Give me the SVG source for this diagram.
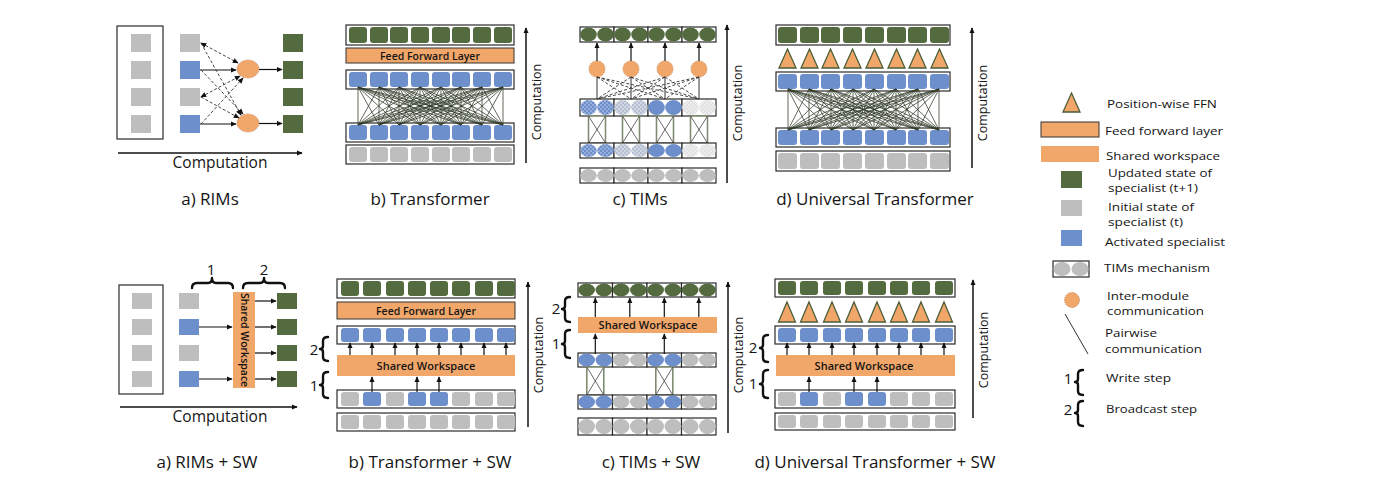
<svg xmlns="http://www.w3.org/2000/svg" width="1400" height="486" viewBox="0 0 1400 486">
<defs>
<style>
.t{font-family:"Open Sans","Liberation Sans",sans-serif;fill:#151515}
.ttl{font-size:17px;text-anchor:middle}
.cmp{font-size:15.5px;text-anchor:middle}
.rc{font-size:12.5px;text-anchor:middle}
.lg{font-size:11px}
.bar{font-size:10.5px;font-weight:600;text-anchor:middle}
.num{font-size:15px;text-anchor:middle}
.fr{fill:#fff;stroke:#2a2a2a;stroke-width:1.2}
.g{fill:#546b3f}.gr{fill:#bebebe}.b{fill:#6d8fcb}.o{fill:#f2a76a}
.ffl{fill:#f2a76a;stroke:#333;stroke-width:1}
.tri{fill:#f2a76a;stroke:#4a5e38;stroke-width:1.3}
.oc{fill:#f2a76a;stroke:#c8855a;stroke-width:0.8;stroke-dasharray:1.5 1}
.ar{stroke:#111;stroke-width:1.2;fill:none;marker-end:url(#a)}
.ax{stroke:#111;stroke-width:1.5;fill:none;marker-end:url(#a)}
.br{stroke:#111;stroke-width:2.4;fill:none;stroke-linecap:round;stroke-linejoin:round}
.ds{stroke:#333;stroke-width:0.9;stroke-dasharray:3 2;fill:none}
.cn{stroke:#2d3826;stroke-width:0.75;fill:none}
.xb{fill:#fff;stroke:#7f8c72;stroke-width:1.6}
.xl{stroke:#444;stroke-width:0.8;fill:none}
.vl{stroke:#333;stroke-width:1;fill:none}
</style>
<marker id="a" viewBox="0 0 8 8" refX="7" refY="4" markerWidth="6" markerHeight="6" markerUnits="userSpaceOnUse" orient="auto-start-reverse"><path d="M0 0.5L8 4L0 7.5z" fill="#111"/></marker>
<pattern id="pb" width="4" height="4" patternUnits="userSpaceOnUse"><rect width="4" height="4" fill="#6d8fcb"/><circle cx="1" cy="1" r="0.7" fill="#dfe6f4"/><circle cx="3" cy="3" r="0.7" fill="#dfe6f4"/></pattern>
<pattern id="pg" width="4" height="4" patternUnits="userSpaceOnUse"><rect width="4" height="4" fill="#d3d6dc"/><circle cx="1" cy="1" r="0.7" fill="#7d9bd0"/><circle cx="3" cy="3" r="0.7" fill="#7d9bd0"/></pattern>
<pattern id="pl" width="4" height="4" patternUnits="userSpaceOnUse"><rect width="4" height="4" fill="#e2e2e2"/><circle cx="1" cy="1" r="0.7" fill="#fff"/><circle cx="3" cy="3" r="0.7" fill="#fff"/></pattern>
</defs>
<rect width="1400" height="486" fill="#fff"/>

<!-- a) RIMs -->
<g id="rims">
<rect class="fr" x="117" y="26" width="46" height="113"/>
<rect class="gr" x="131" y="34" width="20" height="18"/><rect class="gr" x="131" y="61" width="20" height="18"/><rect class="gr" x="131" y="88" width="20" height="18"/><rect class="gr" x="131" y="115" width="20" height="18"/>
<rect class="gr" x="180" y="34" width="20" height="18"/><rect class="b" x="180" y="61" width="20" height="18"/><rect class="gr" x="180" y="88" width="20" height="18"/><rect class="b" x="180" y="115" width="20" height="18"/>
<ellipse class="oc" cx="248" cy="69" rx="11" ry="9"/><ellipse class="oc" cx="248" cy="123" rx="11" ry="9"/>
<rect class="g" x="283" y="34" width="20" height="18"/><rect class="g" x="283" y="61" width="20" height="18"/><rect class="g" x="283" y="88" width="20" height="18"/><rect class="g" x="283" y="115" width="20" height="18"/>
<text class="t cmp" x="220" y="168">Computation</text>
<text class="t ttl" x="210" y="205">a) RIMs</text>
</g>

<!-- b) Transformer -->
<g id="transformer">
<rect class="fr" x="346" y="25" width="168" height="20"/>
<rect class="g" x="349" y="27" width="18" height="16" rx="3"/><rect class="g" x="370" y="27" width="18" height="16" rx="3"/><rect class="g" x="390" y="27" width="18" height="16" rx="3"/><rect class="g" x="411" y="27" width="18" height="16" rx="3"/><rect class="g" x="432" y="27" width="18" height="16" rx="3"/><rect class="g" x="452" y="27" width="18" height="16" rx="3"/><rect class="g" x="473" y="27" width="18" height="16" rx="3"/><rect class="g" x="494" y="27" width="18" height="16" rx="3"/>
<rect class="ffl" x="346" y="48" width="168" height="15"/>
<text class="t bar" x="430" y="59.5">Feed Forward Layer</text>
<rect class="fr" x="346" y="70" width="168" height="19"/>
<rect class="b" x="349" y="72" width="18" height="15" rx="3"/><rect class="b" x="370" y="72" width="18" height="15" rx="3"/><rect class="b" x="390" y="72" width="18" height="15" rx="3"/><rect class="b" x="411" y="72" width="18" height="15" rx="3"/><rect class="b" x="432" y="72" width="18" height="15" rx="3"/><rect class="b" x="452" y="72" width="18" height="15" rx="3"/><rect class="b" x="473" y="72" width="18" height="15" rx="3"/><rect class="b" x="494" y="72" width="18" height="15" rx="3"/>
<rect class="fr" x="346" y="123" width="168" height="19"/>
<rect class="b" x="349" y="125" width="18" height="15" rx="3"/><rect class="b" x="370" y="125" width="18" height="15" rx="3"/><rect class="b" x="390" y="125" width="18" height="15" rx="3"/><rect class="b" x="411" y="125" width="18" height="15" rx="3"/><rect class="b" x="432" y="125" width="18" height="15" rx="3"/><rect class="b" x="452" y="125" width="18" height="15" rx="3"/><rect class="b" x="473" y="125" width="18" height="15" rx="3"/><rect class="b" x="494" y="125" width="18" height="15" rx="3"/>
<rect class="fr" x="346" y="145" width="168" height="19"/>
<rect class="gr" x="349" y="147" width="18" height="15" rx="3"/><rect class="gr" x="370" y="147" width="18" height="15" rx="3"/><rect class="gr" x="390" y="147" width="18" height="15" rx="3"/><rect class="gr" x="411" y="147" width="18" height="15" rx="3"/><rect class="gr" x="432" y="147" width="18" height="15" rx="3"/><rect class="gr" x="452" y="147" width="18" height="15" rx="3"/><rect class="gr" x="473" y="147" width="18" height="15" rx="3"/><rect class="gr" x="494" y="147" width="18" height="15" rx="3"/>
<text class="t rc" transform="translate(541 102) rotate(-90)">Computation</text>
<text class="t ttl" x="430" y="205">b) Transformer</text>
</g>

<!-- c) TIMs -->
<g id="tims">
<rect class="fr" x="580" y="27" width="34" height="15"/><rect class="fr" x="614" y="27" width="34" height="15"/><rect class="fr" x="648" y="27" width="34" height="15"/><rect class="fr" x="682" y="27" width="34" height="15"/>
<g class="g"><ellipse cx="588.5" cy="34.5" rx="8.3" ry="7"/><ellipse cx="605.5" cy="34.5" rx="8.3" ry="7"/><ellipse cx="622.5" cy="34.5" rx="8.3" ry="7"/><ellipse cx="639.5" cy="34.5" rx="8.3" ry="7"/><ellipse cx="656.5" cy="34.5" rx="8.3" ry="7"/><ellipse cx="673.5" cy="34.5" rx="8.3" ry="7"/><ellipse cx="690.5" cy="34.5" rx="8.3" ry="7"/><ellipse cx="707.5" cy="34.5" rx="8.3" ry="7"/></g>
<circle class="oc" cx="597" cy="69" r="8"/><circle class="oc" cx="631" cy="69" r="8"/><circle class="oc" cx="665" cy="69" r="8"/><circle class="oc" cx="699" cy="69" r="8"/>
<rect class="fr" x="580" y="99" width="34" height="17"/><rect class="fr" x="614" y="99" width="34" height="17"/><rect class="fr" x="648" y="99" width="34" height="17"/><rect class="fr" x="682" y="99" width="34" height="17"/>
<ellipse fill="url(#pb)" cx="588.5" cy="107.5" rx="8.3" ry="7.5"/><ellipse fill="url(#pb)" cx="605.5" cy="107.5" rx="8.3" ry="7.5"/><ellipse fill="url(#pg)" cx="622.5" cy="107.5" rx="8.3" ry="7.5"/><ellipse fill="url(#pg)" cx="639.5" cy="107.5" rx="8.3" ry="7.5"/><ellipse class="b" cx="656.5" cy="107.5" rx="8.3" ry="7.5"/><ellipse class="b" cx="673.5" cy="107.5" rx="8.3" ry="7.5"/><ellipse fill="url(#pl)" cx="690.5" cy="107.5" rx="8.3" ry="7.5"/><ellipse fill="url(#pl)" cx="707.5" cy="107.5" rx="8.3" ry="7.5"/>
<rect class="xb" x="588.5" y="116" width="17" height="27"/><rect class="xb" x="622.5" y="116" width="17" height="27"/><rect class="xb" x="656.5" y="116" width="17" height="27"/><rect class="xb" x="690.5" y="116" width="17" height="27"/>
<path class="xl" d="M588.5 116 605.5 143M605.5 116 588.5 143M622.5 116 639.5 143M639.5 116 622.5 143M656.5 116 673.5 143M673.5 116 656.5 143M690.5 116 707.5 143M707.5 116 690.5 143"/>
<rect class="fr" x="580" y="143" width="34" height="15"/><rect class="fr" x="614" y="143" width="34" height="15"/><rect class="fr" x="648" y="143" width="34" height="15"/><rect class="fr" x="682" y="143" width="34" height="15"/>
<ellipse fill="url(#pb)" cx="588.5" cy="150.5" rx="8.3" ry="6.5"/><ellipse fill="url(#pb)" cx="605.5" cy="150.5" rx="8.3" ry="6.5"/><ellipse fill="url(#pg)" cx="622.5" cy="150.5" rx="8.3" ry="6.5"/><ellipse fill="url(#pg)" cx="639.5" cy="150.5" rx="8.3" ry="6.5"/><ellipse class="b" cx="656.5" cy="150.5" rx="8.3" ry="6.5"/><ellipse class="b" cx="673.5" cy="150.5" rx="8.3" ry="6.5"/><ellipse fill="url(#pl)" cx="690.5" cy="150.5" rx="8.3" ry="6.5"/><ellipse fill="url(#pl)" cx="707.5" cy="150.5" rx="8.3" ry="6.5"/>
<rect class="fr" x="580" y="168" width="34" height="15"/><rect class="fr" x="614" y="168" width="34" height="15"/><rect class="fr" x="648" y="168" width="34" height="15"/><rect class="fr" x="682" y="168" width="34" height="15"/>
<g class="gr"><ellipse cx="588.5" cy="175.5" rx="8.3" ry="6.5"/><ellipse cx="605.5" cy="175.5" rx="8.3" ry="6.5"/><ellipse cx="622.5" cy="175.5" rx="8.3" ry="6.5"/><ellipse cx="639.5" cy="175.5" rx="8.3" ry="6.5"/><ellipse cx="656.5" cy="175.5" rx="8.3" ry="6.5"/><ellipse cx="673.5" cy="175.5" rx="8.3" ry="6.5"/><ellipse cx="690.5" cy="175.5" rx="8.3" ry="6.5"/><ellipse cx="707.5" cy="175.5" rx="8.3" ry="6.5"/></g>
<text class="t rc" transform="translate(742 103) rotate(-90)">Computation</text>
<text class="t ttl" x="640" y="205">c) TIMs</text>
</g>

<!-- d) Universal Transformer -->
<g id="universal-transformer">
<rect class="fr" x="776" y="25" width="174" height="20"/>
<rect class="g" x="778" y="27" width="19" height="16" rx="3"/><rect class="g" x="800" y="27" width="19" height="16" rx="3"/><rect class="g" x="821" y="27" width="19" height="16" rx="3"/><rect class="g" x="843" y="27" width="19" height="16" rx="3"/><rect class="g" x="865" y="27" width="19" height="16" rx="3"/><rect class="g" x="887" y="27" width="19" height="16" rx="3"/><rect class="g" x="908" y="27" width="19" height="16" rx="3"/><rect class="g" x="930" y="27" width="19" height="16" rx="3"/>
<path class="tri" d="M787.5 49 796 68 779 68zM809.5 49 818 68 801 68zM830.5 49 839 68 822 68zM852.5 49 861 68 844 68zM874.5 49 883 68 866 68zM896.5 49 905 68 888 68zM917.5 49 926 68 909 68zM939.5 49 948 68 931 68z"/>
<rect class="fr" x="776" y="72" width="174" height="19"/>
<rect class="b" x="778" y="74" width="19" height="15" rx="3"/><rect class="b" x="800" y="74" width="19" height="15" rx="3"/><rect class="b" x="821" y="74" width="19" height="15" rx="3"/><rect class="b" x="843" y="74" width="19" height="15" rx="3"/><rect class="b" x="865" y="74" width="19" height="15" rx="3"/><rect class="b" x="887" y="74" width="19" height="15" rx="3"/><rect class="b" x="908" y="74" width="19" height="15" rx="3"/><rect class="b" x="930" y="74" width="19" height="15" rx="3"/>
<rect class="fr" x="776" y="128" width="174" height="19"/>
<rect class="b" x="778" y="130" width="19" height="15" rx="3"/><rect class="b" x="800" y="130" width="19" height="15" rx="3"/><rect class="b" x="821" y="130" width="19" height="15" rx="3"/><rect class="b" x="843" y="130" width="19" height="15" rx="3"/><rect class="b" x="865" y="130" width="19" height="15" rx="3"/><rect class="b" x="887" y="130" width="19" height="15" rx="3"/><rect class="b" x="908" y="130" width="19" height="15" rx="3"/><rect class="b" x="930" y="130" width="19" height="15" rx="3"/>
<rect class="fr" x="776" y="151" width="174" height="20"/>
<rect class="gr" x="778" y="153" width="19" height="16" rx="3"/><rect class="gr" x="800" y="153" width="19" height="16" rx="3"/><rect class="gr" x="821" y="153" width="19" height="16" rx="3"/><rect class="gr" x="843" y="153" width="19" height="16" rx="3"/><rect class="gr" x="865" y="153" width="19" height="16" rx="3"/><rect class="gr" x="887" y="153" width="19" height="16" rx="3"/><rect class="gr" x="908" y="153" width="19" height="16" rx="3"/><rect class="gr" x="930" y="153" width="19" height="16" rx="3"/>
<text class="t rc" transform="translate(987 103) rotate(-90)">Computation</text>
<text class="t ttl" x="875" y="205">d) Universal Transformer</text>
</g>

<!-- a) RIMs + SW -->
<g id="rims-sw">
<rect class="fr" x="119" y="285" width="44" height="109"/>
<rect class="gr" x="132" y="293" width="20" height="16"/><rect class="gr" x="132" y="319" width="20" height="16"/><rect class="gr" x="132" y="345" width="20" height="16"/><rect class="gr" x="132" y="371" width="20" height="16"/>
<rect class="gr" x="179" y="293" width="20" height="16"/><rect class="b" x="179" y="319" width="20" height="16"/><rect class="gr" x="179" y="345" width="20" height="16"/><rect class="b" x="179" y="371" width="20" height="16"/>
<rect class="o" x="233" y="292" width="22" height="96"/>
<text class="t bar" transform="translate(240.5 340) rotate(90)">Shared Workspace</text>
<rect class="g" x="277" y="293" width="20" height="16"/><rect class="g" x="277" y="319" width="20" height="16"/><rect class="g" x="277" y="345" width="20" height="16"/><rect class="g" x="277" y="371" width="20" height="16"/>
<path class="br" d="M192 288Q192 283 197 283L208 283Q212 283 212 278Q212 283 216 283L228 283Q233 283 233 288"/>
<path class="br" d="M243 288Q243 283 248 283L260 283Q264 283 264 278Q264 283 268 283L280 283Q285 283 285 288"/>
<text class="t num" x="211" y="275">1</text>
<text class="t num" x="264" y="275">2</text>
<text class="t cmp" x="220" y="422">Computation</text>
<text class="t ttl" x="207" y="468">a) RIMs + SW</text>
</g>

<!-- b) Transformer + SW -->
<g id="transformer-sw">
<rect class="fr" x="337" y="279" width="178" height="19"/>
<rect class="g" x="341" y="281" width="18" height="15" rx="3"/><rect class="g" x="363" y="281" width="18" height="15" rx="3"/><rect class="g" x="386" y="281" width="18" height="15" rx="3"/><rect class="g" x="408" y="281" width="18" height="15" rx="3"/><rect class="g" x="430" y="281" width="18" height="15" rx="3"/><rect class="g" x="452" y="281" width="18" height="15" rx="3"/><rect class="g" x="475" y="281" width="18" height="15" rx="3"/><rect class="g" x="497" y="281" width="18" height="15" rx="3"/>
<rect class="ffl" x="337" y="302" width="178" height="17"/>
<text class="t bar" x="426" y="314.5">Feed Forward Layer</text>
<rect class="fr" x="337" y="326" width="178" height="18"/>
<rect class="b" x="341" y="328" width="18" height="14" rx="3"/><rect class="b" x="363" y="328" width="18" height="14" rx="3"/><rect class="b" x="386" y="328" width="18" height="14" rx="3"/><rect class="b" x="408" y="328" width="18" height="14" rx="3"/><rect class="b" x="430" y="328" width="18" height="14" rx="3"/><rect class="b" x="452" y="328" width="18" height="14" rx="3"/><rect class="b" x="475" y="328" width="18" height="14" rx="3"/><rect class="b" x="497" y="328" width="18" height="14" rx="3"/>
<rect class="o" x="337" y="355" width="178" height="21"/>
<text class="t bar" style="font-size:11px" x="426" y="369.5">Shared Workspace</text>
<rect class="fr" x="337" y="390" width="178" height="18"/>
<rect class="gr" x="341" y="392" width="18" height="14" rx="3"/><rect class="b" x="363" y="392" width="18" height="14" rx="3"/><rect class="gr" x="386" y="392" width="18" height="14" rx="3"/><rect class="b" x="408" y="392" width="18" height="14" rx="3"/><rect class="b" x="430" y="392" width="18" height="14" rx="3"/><rect class="gr" x="452" y="392" width="18" height="14" rx="3"/><rect class="gr" x="475" y="392" width="18" height="14" rx="3"/><rect class="gr" x="497" y="392" width="18" height="14" rx="3"/>
<rect class="fr" x="337" y="413" width="178" height="18"/>
<rect class="gr" x="341" y="415" width="18" height="14" rx="3"/><rect class="gr" x="363" y="415" width="18" height="14" rx="3"/><rect class="gr" x="386" y="415" width="18" height="14" rx="3"/><rect class="gr" x="408" y="415" width="18" height="14" rx="3"/><rect class="gr" x="430" y="415" width="18" height="14" rx="3"/><rect class="gr" x="452" y="415" width="18" height="14" rx="3"/><rect class="gr" x="475" y="415" width="18" height="14" rx="3"/><rect class="gr" x="497" y="415" width="18" height="14" rx="3"/>
<path class="br" d="M328 337Q323 337 323 341L323 346Q323 349 320 349Q323 349 323 352L323 357Q323 361 328 361"/>
<path class="br" d="M328 372Q323 372 323 376L323 382Q323 385 320 385Q323 385 323 388L323 394Q323 398 328 398"/>
<text class="t num" x="314" y="355">2</text>
<text class="t num" x="314" y="391">1</text>
<text class="t rc" transform="translate(543 355) rotate(-90)">Computation</text>
<text class="t ttl" x="430" y="468">b) Transformer + SW</text>
</g>

<!-- c) TIMs + SW -->
<g id="tims-sw">
<rect class="fr" x="578" y="283" width="34.5" height="14"/><rect class="fr" x="612.5" y="283" width="34.5" height="14"/><rect class="fr" x="647" y="283" width="34.5" height="14"/><rect class="fr" x="681.5" y="283" width="34.5" height="14"/>
<g class="g"><ellipse cx="586.6" cy="290" rx="8.4" ry="6.5"/><ellipse cx="603.9" cy="290" rx="8.4" ry="6.5"/><ellipse cx="621.1" cy="290" rx="8.4" ry="6.5"/><ellipse cx="638.4" cy="290" rx="8.4" ry="6.5"/><ellipse cx="655.6" cy="290" rx="8.4" ry="6.5"/><ellipse cx="672.9" cy="290" rx="8.4" ry="6.5"/><ellipse cx="690.1" cy="290" rx="8.4" ry="6.5"/><ellipse cx="707.4" cy="290" rx="8.4" ry="6.5"/></g>
<rect class="o" x="578" y="317" width="139" height="16"/>
<text class="t bar" style="font-size:11px" x="648" y="329">Shared Workspace</text>
<rect class="fr" x="578" y="353" width="34.5" height="14"/><rect class="fr" x="612.5" y="353" width="34.5" height="14"/><rect class="fr" x="647" y="353" width="34.5" height="14"/><rect class="fr" x="681.5" y="353" width="34.5" height="14"/>
<ellipse class="b" cx="586.6" cy="360" rx="8.4" ry="6.5"/><ellipse class="b" cx="603.9" cy="360" rx="8.4" ry="6.5"/><ellipse class="gr" cx="621.1" cy="360" rx="8.4" ry="6.5"/><ellipse class="gr" cx="638.4" cy="360" rx="8.4" ry="6.5"/><ellipse class="b" cx="655.6" cy="360" rx="8.4" ry="6.5"/><ellipse class="b" cx="672.9" cy="360" rx="8.4" ry="6.5"/><ellipse class="gr" cx="690.1" cy="360" rx="8.4" ry="6.5"/><ellipse class="gr" cx="707.4" cy="360" rx="8.4" ry="6.5"/>
<rect class="xb" x="586.8" y="367" width="17" height="28"/><rect class="xb" x="655.8" y="367" width="17" height="28"/>
<path class="xl" d="M586.8 367 603.8 395M603.8 367 586.8 395M655.8 367 672.8 395M672.8 367 655.8 395"/>
<rect class="fr" x="578" y="395" width="34.5" height="14"/><rect class="fr" x="612.5" y="395" width="34.5" height="14"/><rect class="fr" x="647" y="395" width="34.5" height="14"/><rect class="fr" x="681.5" y="395" width="34.5" height="14"/>
<ellipse class="b" cx="586.6" cy="402" rx="8.4" ry="6.5"/><ellipse class="b" cx="603.9" cy="402" rx="8.4" ry="6.5"/><ellipse class="gr" cx="621.1" cy="402" rx="8.4" ry="6.5"/><ellipse class="gr" cx="638.4" cy="402" rx="8.4" ry="6.5"/><ellipse class="b" cx="655.6" cy="402" rx="8.4" ry="6.5"/><ellipse class="b" cx="672.9" cy="402" rx="8.4" ry="6.5"/><ellipse class="gr" cx="690.1" cy="402" rx="8.4" ry="6.5"/><ellipse class="gr" cx="707.4" cy="402" rx="8.4" ry="6.5"/>
<rect class="fr" x="578" y="418" width="34.5" height="17"/><rect class="fr" x="612.5" y="418" width="34.5" height="17"/><rect class="fr" x="647" y="418" width="34.5" height="17"/><rect class="fr" x="681.5" y="418" width="34.5" height="17"/>
<g class="gr"><ellipse cx="586.6" cy="426.5" rx="8.4" ry="7.5"/><ellipse cx="603.9" cy="426.5" rx="8.4" ry="7.5"/><ellipse cx="621.1" cy="426.5" rx="8.4" ry="7.5"/><ellipse cx="638.4" cy="426.5" rx="8.4" ry="7.5"/><ellipse cx="655.6" cy="426.5" rx="8.4" ry="7.5"/><ellipse cx="672.9" cy="426.5" rx="8.4" ry="7.5"/><ellipse cx="690.1" cy="426.5" rx="8.4" ry="7.5"/><ellipse cx="707.4" cy="426.5" rx="8.4" ry="7.5"/></g>
<path class="br" d="M570 297Q565 297 565 301L565 306Q565 309 562 309Q565 309 565 312L565 318Q565 322 570 322"/>
<path class="br" d="M570 330Q565 330 565 334L565 341Q565 344 562 344Q565 344 565 347L565 354Q565 358 570 358"/>
<text class="t num" x="556" y="314">2</text>
<text class="t num" x="556" y="349">1</text>
<text class="t rc" transform="translate(743 355) rotate(-90)">Computation</text>
<text class="t ttl" x="651" y="468">c) TIMs + SW</text>
</g>

<!-- d) Universal Transformer + SW -->
<g id="universal-transformer-sw">
<rect class="fr" x="775" y="279" width="180" height="18"/>
<rect class="g" x="778" y="281" width="18" height="14" rx="3"/><rect class="g" x="800" y="281" width="18" height="14" rx="3"/><rect class="g" x="823" y="281" width="18" height="14" rx="3"/><rect class="g" x="845" y="281" width="18" height="14" rx="3"/><rect class="g" x="868" y="281" width="18" height="14" rx="3"/><rect class="g" x="890" y="281" width="18" height="14" rx="3"/><rect class="g" x="912" y="281" width="18" height="14" rx="3"/><rect class="g" x="935" y="281" width="18" height="14" rx="3"/>
<path class="tri" d="M787 302 795.5 322 778.5 322zM809 302 817.5 322 800.5 322zM832 302 840.5 322 823.5 322zM854 302 862.5 322 845.5 322zM877 302 885.5 322 868.5 322zM899 302 907.5 322 890.5 322zM921 302 929.5 322 912.5 322zM944 302 952.5 322 935.5 322z"/>
<rect class="fr" x="775" y="326" width="180" height="18"/>
<rect class="b" x="778" y="328" width="18" height="14" rx="3"/><rect class="b" x="800" y="328" width="18" height="14" rx="3"/><rect class="b" x="823" y="328" width="18" height="14" rx="3"/><rect class="b" x="845" y="328" width="18" height="14" rx="3"/><rect class="b" x="868" y="328" width="18" height="14" rx="3"/><rect class="b" x="890" y="328" width="18" height="14" rx="3"/><rect class="b" x="912" y="328" width="18" height="14" rx="3"/><rect class="b" x="935" y="328" width="18" height="14" rx="3"/>
<rect class="o" x="776" y="355" width="179" height="21"/>
<text class="t bar" style="font-size:11px" x="864" y="369.5">Shared Workspace</text>
<rect class="fr" x="775" y="390" width="180" height="18"/>
<rect class="gr" x="778" y="392" width="18" height="14" rx="3"/><rect class="b" x="800" y="392" width="18" height="14" rx="3"/><rect class="gr" x="823" y="392" width="18" height="14" rx="3"/><rect class="b" x="845" y="392" width="18" height="14" rx="3"/><rect class="b" x="868" y="392" width="18" height="14" rx="3"/><rect class="gr" x="890" y="392" width="18" height="14" rx="3"/><rect class="gr" x="912" y="392" width="18" height="14" rx="3"/><rect class="gr" x="935" y="392" width="18" height="14" rx="3"/>
<rect class="fr" x="775" y="413" width="180" height="17"/>
<rect class="gr" x="778" y="415" width="18" height="13" rx="3"/><rect class="gr" x="800" y="415" width="18" height="13" rx="3"/><rect class="gr" x="823" y="415" width="18" height="13" rx="3"/><rect class="gr" x="845" y="415" width="18" height="13" rx="3"/><rect class="gr" x="868" y="415" width="18" height="13" rx="3"/><rect class="gr" x="890" y="415" width="18" height="13" rx="3"/><rect class="gr" x="912" y="415" width="18" height="13" rx="3"/><rect class="gr" x="935" y="415" width="18" height="13" rx="3"/>
<path class="br" d="M768 335Q763 335 763 339L763 345Q763 348 760 348Q763 348 763 351L763 358Q763 362 768 362"/>
<path class="br" d="M768 370Q763 370 763 374L763 381Q763 384 760 384Q763 384 763 387L763 394Q763 398 768 398"/>
<text class="t num" x="753" y="353">2</text>
<text class="t num" x="753" y="389">1</text>
<text class="t rc" transform="translate(988 350) rotate(-90)">Computation</text>
<text class="t ttl" x="875" y="468">d) Universal Transformer + SW</text>
</g>

<!-- Legend -->
<g id="legend">
<path class="tri" d="M1071.5 93 1080 112 1063 112z"/>
<text class="t lg" x="1107" y="108" textLength="110" lengthAdjust="spacingAndGlyphs">Position-wise FFN</text>
<rect class="ffl" x="1041" y="122" width="58" height="15"/>
<text class="t lg" x="1105" y="135" textLength="118" lengthAdjust="spacingAndGlyphs">Feed forward layer</text>
<rect class="o" x="1041" y="146" width="58" height="16"/>
<text class="t lg" x="1106" y="160" textLength="114" lengthAdjust="spacingAndGlyphs">Shared workspace</text>
<rect class="g" x="1061" y="171" width="21" height="17"/>
<text class="t lg" x="1108" y="177" textLength="104" lengthAdjust="spacingAndGlyphs">Updated state of</text>
<text class="t lg" x="1108" y="192" textLength="90" lengthAdjust="spacingAndGlyphs">specialist (t+1)</text>
<rect class="gr" x="1061" y="200" width="21" height="16"/>
<text class="t lg" x="1108" y="211" textLength="86" lengthAdjust="spacingAndGlyphs">Initial state of</text>
<text class="t lg" x="1108" y="226" textLength="75" lengthAdjust="spacingAndGlyphs">specialist (t)</text>
<rect class="b" x="1061" y="230" width="21" height="16"/>
<text class="t lg" x="1105" y="246" textLength="120" lengthAdjust="spacingAndGlyphs">Activated specialist</text>
<rect class="fr" x="1053" y="261" width="36" height="16"/>
<ellipse class="gr" cx="1062" cy="269" rx="8.5" ry="7"/><ellipse class="gr" cx="1080" cy="269" rx="8.5" ry="7"/>
<text class="t lg" x="1104" y="272" textLength="106" lengthAdjust="spacingAndGlyphs">TIMs mechanism</text>
<circle class="oc" cx="1072" cy="300" r="7.5"/>
<text class="t lg" x="1107" y="300" textLength="82" lengthAdjust="spacingAndGlyphs">Inter-module</text>
<text class="t lg" x="1107" y="315" textLength="97" lengthAdjust="spacingAndGlyphs">communication</text>
<line x1="1065" y1="314" x2="1088" y2="354" stroke="#333" stroke-width="1"/>
<text class="t lg" x="1105" y="337" textLength="52" lengthAdjust="spacingAndGlyphs">Pairwise</text>
<text class="t lg" x="1105" y="353" textLength="97" lengthAdjust="spacingAndGlyphs">communication</text>
<path class="br" d="M1083 370Q1078 370 1078 374L1078 379Q1078 382 1075 382Q1078 382 1078 385L1078 391Q1078 395 1083 395"/>
<text class="t num" x="1068" y="384">1</text>
<text class="t lg" x="1106" y="382" textLength="65" lengthAdjust="spacingAndGlyphs">Write step</text>
<path class="br" d="M1083 401Q1078 401 1078 405L1078 410Q1078 413 1075 413Q1078 413 1078 416L1078 422Q1078 426 1083 426"/>
<text class="t num" x="1068" y="415">2</text>
<text class="t lg" x="1106" y="413" textLength="91" lengthAdjust="spacingAndGlyphs">Broadcast step</text>
</g>

<!-- Connectors -->
<g id="connectors">
<path class="ar" d="M200 70H236"/><path class="ar" d="M259 69.5H282"/><path class="ar" d="M200 124H236"/><path class="ar" d="M259 123.5H282"/>
<path class="ds" d="M201 43L238 63" marker-start="url(#a)" marker-end="url(#a)"/>
<path class="ds" d="M201 43L241 115" marker-end="url(#a)"/>
<path class="ds" d="M201 70L243 114" marker-end="url(#a)"/>
<path class="ds" d="M201 97L240 76" marker-start="url(#a)" marker-end="url(#a)"/>
<path class="ds" d="M201 97L239 118" marker-end="url(#a)"/>
<path class="ds" d="M201 124L243 78" marker-end="url(#a)"/>
<path class="ax" d="M118 153H302"/>
<path class="cn" d="M358 87 358 125M358 87 379 125M358 87 399 125M358 87 420 125M358 87 441 125M358 87 461 125M358 87 482 125M358 87 503 125M379 87 358 125M379 87 379 125M379 87 399 125M379 87 420 125M379 87 441 125M379 87 461 125M379 87 482 125M379 87 503 125M399 87 358 125M399 87 379 125M399 87 399 125M399 87 420 125M399 87 441 125M399 87 461 125M399 87 482 125M399 87 503 125M420 87 358 125M420 87 379 125M420 87 399 125M420 87 420 125M420 87 441 125M420 87 461 125M420 87 482 125M420 87 503 125M441 87 358 125M441 87 379 125M441 87 399 125M441 87 420 125M441 87 441 125M441 87 461 125M441 87 482 125M441 87 503 125M461 87 358 125M461 87 379 125M461 87 399 125M461 87 420 125M461 87 441 125M461 87 461 125M461 87 482 125M461 87 503 125M482 87 358 125M482 87 379 125M482 87 399 125M482 87 420 125M482 87 441 125M482 87 461 125M482 87 482 125M482 87 503 125M503 87 358 125M503 87 379 125M503 87 399 125M503 87 420 125M503 87 441 125M503 87 461 125M503 87 482 125M503 87 503 125"/>
<path class="ax" d="M526 163V28"/>
<path class="ar" d="M597 61V43"/><path class="ar" d="M631 61V43"/><path class="ar" d="M665 61V43"/><path class="ar" d="M699 61V43"/>
<path class="vl" d="M597 77V99M631 77V99M665 77V99M699 77V99"/>
<path class="ds" d="M597 77 631 99M597 77 665 99M597 77 699 99M631 77 597 99M631 77 665 99M631 77 699 99M665 77 597 99M665 77 631 99M665 77 699 99M699 77 597 99M699 77 631 99M699 77 665 99"/>
<path class="ax" d="M727 183V25"/>
<path class="cn" d="M788 89 788 130M788 89 809 130M788 89 831 130M788 89 853 130M788 89 874 130M788 89 896 130M788 89 918 130M788 89 939 130M809 89 788 130M809 89 809 130M809 89 831 130M809 89 853 130M809 89 874 130M809 89 896 130M809 89 918 130M809 89 939 130M831 89 788 130M831 89 809 130M831 89 831 130M831 89 853 130M831 89 874 130M831 89 896 130M831 89 918 130M831 89 939 130M853 89 788 130M853 89 809 130M853 89 831 130M853 89 853 130M853 89 874 130M853 89 896 130M853 89 918 130M853 89 939 130M874 89 788 130M874 89 809 130M874 89 831 130M874 89 853 130M874 89 874 130M874 89 896 130M874 89 918 130M874 89 939 130M896 89 788 130M896 89 809 130M896 89 831 130M896 89 853 130M896 89 874 130M896 89 896 130M896 89 918 130M896 89 939 130M918 89 788 130M918 89 809 130M918 89 831 130M918 89 853 130M918 89 874 130M918 89 896 130M918 89 918 130M918 89 939 130M939 89 788 130M939 89 809 130M939 89 831 130M939 89 853 130M939 89 874 130M939 89 896 130M939 89 918 130M939 89 939 130"/>
<path class="ax" d="M972 168V28"/>
<path class="ar" d="M199 327H232"/><path class="ar" d="M199 379H232"/>
<path class="ar" d="M255 301H276"/><path class="ar" d="M255 327H276"/><path class="ar" d="M255 353H276"/><path class="ar" d="M255 379H276"/>
<path class="ax" d="M120 407H297"/>
<path class="ar" d="M350 355V343"/><path class="ar" d="M372 355V343"/><path class="ar" d="M395 355V343"/><path class="ar" d="M417 355V343"/><path class="ar" d="M439 355V343"/><path class="ar" d="M461 355V343"/><path class="ar" d="M484 355V343"/><path class="ar" d="M506 355V343"/>
<path class="ar" d="M372 392V377"/><path class="ar" d="M417 392V377"/><path class="ar" d="M439 392V377"/>
<path class="ax" d="M528 427V282"/>
<path class="ar" d="M595.3 317V298"/><path class="ar" d="M629.8 317V298"/><path class="ar" d="M664.3 317V298"/><path class="ar" d="M698.8 317V298"/>
<path class="ar" d="M595.3 354V334"/><path class="ar" d="M664.3 354V334"/>
<path class="ax" d="M728 433V282"/>
<path class="ar" d="M787 355V343"/><path class="ar" d="M809 355V343"/><path class="ar" d="M832 355V343"/><path class="ar" d="M854 355V343"/><path class="ar" d="M877 355V343"/><path class="ar" d="M899 355V343"/><path class="ar" d="M921 355V343"/><path class="ar" d="M944 355V343"/>
<path class="ar" d="M809 392V377"/><path class="ar" d="M854 392V377"/><path class="ar" d="M877 392V377"/>
<path class="ax" d="M973 418V280"/>
</g>
</svg>
